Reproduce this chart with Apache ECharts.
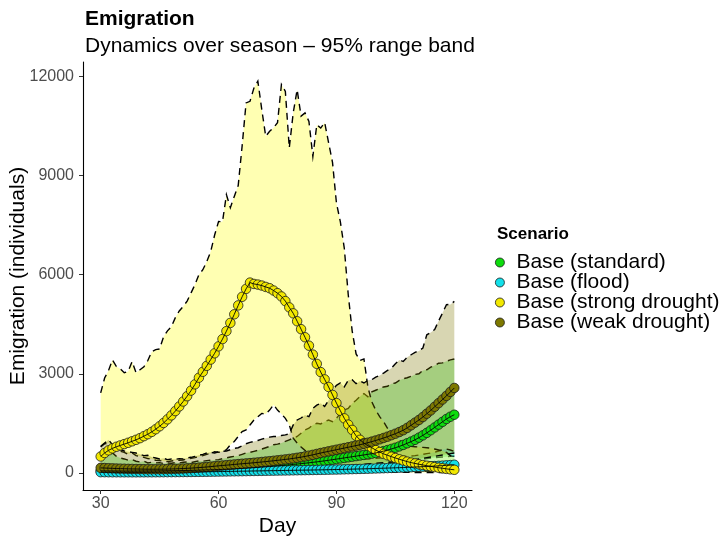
<!DOCTYPE html>
<html>
<head>
<meta charset="utf-8">
<script src="https://cdn.jsdelivr.net/npm/echarts@6/dist/echarts.min.js"></script>
<style>
  html, body { margin: 0; padding: 0; background: #ffffff; }
  #chart { width: 722px; height: 539px; }
</style>
</head>
<body>
<div id="chart"></div>
<script>
// Day of season
const days = [
  30, 31, 32, 33, 34, 35, 36, 37, 38, 39,
  40, 41, 42, 43, 44, 45, 46, 47, 48, 49,
  50, 51, 52, 53, 54, 55, 56, 57, 58, 59,
  60, 61, 62, 63, 64, 65, 66, 67, 68, 69,
  70, 71, 72, 73, 74, 75, 76, 77, 78, 79,
  80, 81, 82, 83, 84, 85, 86, 87, 88, 89,
  90, 91, 92, 93, 94, 95, 96, 97, 98, 99,
  100, 101, 102, 103, 104, 105, 106, 107, 108, 109,
  110, 111, 112, 113, 114, 115, 116, 117, 118, 119,
  120
];

const scenarioNames = ['Base (standard)', 'Base (flood)', 'Base (strong drought)', 'Base (weak drought)'];

// Base (standard): mean and 95% range
const standardMean = [
  60, 58, 57, 56, 55, 55, 54, 54, 54, 55,
  55, 56, 56, 57, 58, 59, 60, 62, 63, 65,
  67, 70, 72, 75, 78, 81, 85, 88, 92, 96,
  100, 105, 110, 116, 122, 128, 134, 141, 148, 156,
  164, 172, 181, 190, 200, 210, 220, 231, 242, 254,
  266, 278, 291, 304, 318, 332, 347, 363, 380, 398,
  416, 434, 452, 470, 488, 506, 524, 542, 561, 580,
  600, 628, 658, 690, 724, 760, 800, 845, 895, 945,
  1000, 1065, 1135, 1210, 1290, 1375, 1460, 1545, 1630, 1700,
  1760
];
const standardLow = [
  10, 10, 8, 8, 8, 7, 7, 7, 6, 6,
  6, 6, 6, 6, 6, 6, 6, 7, 7, 7,
  8, 8, 9, 9, 10, 10, 11, 12, 13, 14,
  15, 16, 18, 20, 22, 24, 26, 28, 30, 33,
  36, 39, 42, 45, 48, 52, 56, 60, 64, 68,
  73, 78, 84, 90, 96, 102, 110, 118, 126, 134,
  142, 150, 160, 170, 180, 190, 200, 212, 224, 236,
  248, 260, 272, 285, 298, 312, 326, 340, 355, 370,
  385, 400, 415, 430, 445, 460, 470, 480, 490, 500,
  500
];
const standardHigh = [
  600, 550, 500, 600, 500, 450, 420, 380, 400, 350,
  330, 350, 300, 320, 300, 310, 280, 300, 290, 310,
  300, 320, 330, 310, 340, 360, 350, 370, 380, 390,
  400, 430, 450, 480, 500, 520, 560, 600, 620, 650,
  680, 720, 760, 800, 850, 870, 900, 950, 1000, 1050,
  1100, 1200, 1300, 1350, 1450, 1500, 1480, 1550, 1600, 1550,
  1650, 1800, 1900, 1950, 2100, 2200, 2312, 2400, 2300, 2450,
  2500, 2550, 2600, 2620, 2700, 2720, 2800, 2850, 2880, 2920,
  2980, 3000, 3100, 3120, 3200, 3250, 3320, 3330, 3380, 3420,
  3445
];

// Base (flood)
const floodMean = [
  20, 19, 18, 17, 17, 16, 16, 16, 16, 16,
  16, 16, 17, 17, 18, 18, 19, 20, 21, 22,
  23, 24, 25, 26, 28, 29, 30, 32, 34, 36,
  38, 40, 42, 44, 46, 48, 50, 52, 54, 56,
  58, 60, 62, 64, 66, 68, 70, 72, 74, 76,
  78, 80, 82, 84, 86, 88, 90, 92, 95, 98,
  100, 103, 106, 109, 112, 115, 118, 121, 124, 128,
  132, 136, 140, 144, 148, 152, 156, 161, 166, 171,
  176, 181, 186, 192, 198, 204, 211, 218, 226, 234,
  245
];
const floodLow = [
  2, 2, 2, 2, 2, 2, 2, 2, 2, 2,
  2, 2, 2, 2, 2, 2, 2, 3, 3, 3,
  3, 3, 4, 4, 4, 4, 5, 5, 5, 6,
  6, 6, 7, 7, 8, 8, 9, 9, 10, 10,
  11, 11, 12, 12, 13, 14, 14, 15, 16, 16,
  17, 18, 19, 20, 20, 21, 22, 23, 24, 25,
  26, 27, 28, 29, 30, 31, 32, 33, 34, 35,
  36, 37, 38, 39, 40, 41, 42, 43, 44, 45,
  46, 47, 48, 49, 50, 51, 52, 53, 54, 55,
  56
];
const floodHigh = [
  120, 110, 100, 110, 90, 100, 90, 95, 85, 90,
  90, 95, 85, 100, 95, 110, 100, 105, 115, 110,
  120, 115, 130, 125, 140, 135, 150, 145, 160, 170,
  165, 180, 175, 190, 200, 195, 210, 220, 215, 230,
  240, 235, 250, 260, 255, 270, 280, 275, 290, 300,
  295, 310, 320, 315, 330, 340, 335, 350, 360, 355,
  370, 380, 375, 390, 400, 395, 410, 420, 430, 425,
  440, 450, 460, 455, 470, 480, 490, 500, 495, 510,
  520, 540, 560, 580, 600, 620, 660, 700, 720, 690,
  650
];

// Base (strong drought)
const strongMean = [
  494, 600, 680, 740, 790, 830, 870, 910, 955, 1000,
  1050, 1110, 1170, 1240, 1320, 1410, 1510, 1620, 1740, 1870,
  2010, 2160, 2320, 2490, 2680, 2880, 3060, 3240, 3430, 3620,
  3830, 4050, 4290, 4540, 4800, 5070, 5330, 5570, 5760, 5720,
  5700, 5670, 5630, 5590, 5520, 5440, 5340, 5200, 5010, 4830,
  4590, 4350, 4105, 3850, 3580, 3300, 3050, 2830, 2600, 2360,
  2112, 1880, 1650, 1460, 1300, 1120, 1000, 900, 820, 760,
  690, 630, 575, 530, 490, 450, 410, 375, 340, 310,
  285, 260, 238, 215, 195, 175, 155, 138, 120, 105,
  92
];
const strongLow = [
  780, 880, 900, 780, 720, 650, 620, 560, 600, 520,
  500, 470, 430, 420, 380, 370, 350, 340, 360, 370,
  380, 390, 420, 440, 460, 490, 520, 560, 590, 640,
  620, 640, 700, 850, 950, 1100, 1250, 1300, 1450, 1600,
  1700, 1800, 1780, 1900, 2060, 1900, 1780, 1650, 1450, 1050,
  900, 780, 680, 600, 520, 450, 380, 320, 270, 230,
  190, 160, 130, 110, 90, 75, 60, 50, 40, 35,
  30, 28, 25, 22, 20, 18, 16, 15, 14, 13,
  12, 11, 10, 10, 9, 9, 8, 8, 7, 7,
  6
];
const strongHigh = [
  2420, 2870, 3100, 3420, 3220, 3150, 3030, 3070, 3370, 3030,
  3120, 3210, 3400, 3670, 3730, 3750, 4120, 4300, 4430, 4700,
  4900, 5040, 5200, 5450, 5700, 6000, 6150, 6400, 6700, 7200,
  7610, 7600, 8420, 8030, 8370, 8700, 9900, 11200, 11250, 11650,
  11860, 11000, 10190, 10340, 10450, 10600, 11760, 11550, 9840, 10900,
  11600, 10800, 10900, 10640, 9580, 10540, 10440, 10610, 10000, 9400,
  8170, 7600, 6800, 5400, 4300, 3600, 3400, 3450, 2600, 2150,
  1900, 1700, 1550, 1350, 1200, 1080, 980, 920, 860, 800,
  790, 780, 770, 760, 750, 720, 690, 660, 620, 520,
  470
];

// Base (weak drought)
const weakMean = [
  150, 145, 140, 135, 130, 127, 124, 120, 118, 116,
  114, 112, 110, 110, 110, 110, 112, 114, 117, 120,
  125, 130, 136, 142, 150, 158, 167, 177, 188, 200,
  212, 222, 232, 243, 254, 265, 275, 285, 294, 305,
  316, 328, 340, 352, 365, 378, 392, 406, 421, 437,
  455, 475, 497, 520, 545, 572, 600, 625, 650, 675,
  700, 725, 750, 775, 800, 825, 850, 880, 912, 945,
  980, 1015, 1055, 1095, 1140, 1185, 1235, 1290, 1360, 1440,
  1520, 1600, 1690, 1790, 1890, 2000, 2110, 2220, 2330, 2450,
  2570
];
const weakLow = [
  20, 15, 15, 10, 10, 10, 8, 8, 8, 8,
  6, 6, 5, 5, 5, 5, 5, 5, 6, 6,
  6, 7, 8, 8, 9, 10, 11, 12, 14, 15,
  17, 19, 21, 23, 25, 28, 31, 34, 37, 40,
  44, 48, 52, 56, 60, 65, 70, 76, 82, 88,
  95, 102, 110, 120, 130, 140, 150, 160, 170, 180,
  190, 200, 210, 220, 230, 240, 250, 260, 270, 280,
  290, 300, 310, 320, 330, 340, 350, 360, 370, 380,
  400, 420, 440, 460, 480, 500, 520, 540, 560, 580,
  600
];
const weakHigh = [
  800, 900, 1000, 850, 800, 700, 660, 640, 620, 600,
  560, 520, 530, 480, 450, 420, 440, 400, 420, 410,
  430, 420, 450, 470, 500, 530, 560, 600, 620, 600,
  640, 650, 660, 700, 740, 760, 820, 880, 920, 950,
  980, 1020, 1050, 1080, 1100, 1100, 1130, 1150, 1180, 1450,
  1600, 1660, 1750, 1700, 1950, 2050, 2110, 2010, 2200, 2500,
  2650, 2720, 2600, 2800, 2820, 2700, 2780, 2720, 2800, 2820,
  2900, 2950, 3020, 3100, 3170, 3300, 3420, 3370, 3500, 3575,
  3650, 3690, 3780, 4180, 4250, 4340, 4600, 4840, 5090, 5100,
  5190
];

// Axis ticks
const xTicks = [30, 60, 90, 120];
const yTicks = [0, 3000, 6000, 9000, 12000];

const pointColors = ['#0ddc0d', '#12e0ea', '#f2e800', '#7d7800'];
const bandColors = [
  'rgba(13,220,13,0.3)',
  'rgba(18,224,234,0.3)',
  'rgba(255,255,0,0.3)',
  'rgba(125,120,0,0.3)'
];

const means = [standardMean, floodMean, strongMean, weakMean];
const lows = [standardLow, floodLow, strongLow, weakLow];
const highs = [standardHigh, floodHigh, strongHigh, weakHigh];

const FONT = 'Liberation Sans, Arial, Helvetica, sans-serif';
const DASH = [7, 5];

const series = [];

// 95% range bands: filled polygon between the bounds plus dashed outlines
scenarioNames.forEach((name, i) => {
  series.push({
    name: name + ' band',
    type: 'custom',
    coordinateSystem: 'cartesian2d',
    silent: true,
    encode: { x: 0, y: 1 },
    data: [[days[0], lows[i][0]]],
    renderItem: function (params, api) {
      const upper = days.map((d, k) => api.coord([d, highs[i][k]]));
      const lower = days.map((d, k) => api.coord([d, lows[i][k]]));
      return {
        type: 'group',
        children: [
          { type: 'polygon', shape: { points: upper.concat(lower.slice().reverse()) },
            style: { fill: bandColors[i], stroke: null } },
          { type: 'polyline', shape: { points: upper },
            style: { stroke: '#000', lineWidth: 1.4, lineDash: DASH, fill: null } },
          { type: 'polyline', shape: { points: lower },
            style: { stroke: '#000', lineWidth: 1.4, lineDash: DASH, fill: null } }
        ]
      };
    },
    z: 2
  });
});

// Mean points
scenarioNames.forEach((name, i) => {
  series.push({
    name: name,
    type: 'line',
    symbol: 'circle',
    symbolSize: 9.5,
    showSymbol: true,
    lineStyle: { width: 0 },
    itemStyle: { color: pointColors[i], borderColor: '#1a1a1a', borderWidth: 0.8 },
    data: days.map((d, k) => [d, means[i][k]]),
    z: 3
  });
});

// Mean lines drawn over the points
scenarioNames.forEach((name, i) => {
  series.push({
    name: name + ' line',
    type: 'line',
    symbol: 'none',
    silent: true,
    lineStyle: { color: '#000', width: 0.9 },
    data: days.map((d, k) => [d, means[i][k]]),
    z: 4
  });
});

const chart = echarts.init(document.getElementById('chart'), null, { renderer: 'canvas' });
chart.setOption({
  animation: false,
  backgroundColor: '#ffffff',
  textStyle: { fontFamily: FONT },
  title: {
    text: 'Emigration',
    subtext: 'Dynamics over season \u2013 95% range band',
    left: 80,
    top: 4,
    itemGap: 6,
    textStyle: { fontFamily: FONT, fontSize: 21, fontWeight: 'bold', color: '#000' },
    subtextStyle: { fontFamily: FONT, fontSize: 21, color: '#000' }
  },
  grid: { left: 83, right: 250, top: 62, bottom: 49, outerBoundsMode: 'none', containLabel: false },
  legend: {
    data: scenarioNames,
    orient: 'vertical',
    left: 490,
    top: 247,
    icon: 'circle',
    itemWidth: 9,
    itemHeight: 9,
    itemGap: -1,
    selectedMode: false,
    itemStyle: { borderColor: '#1a1a1a', borderWidth: 0.8 },
    textStyle: { fontFamily: FONT, fontSize: 21, color: '#000', lineHeight: 18, padding: [0, 0, 0, 7] }
  },
  graphic: [{
    type: 'text',
    left: 497,
    top: 226,
    style: { text: 'Scenario', font: 'bold 17px ' + FONT, fill: '#000' }
  }],
  xAxis: {
    type: 'value',
    min: 25.5,
    max: 124.5,
    name: 'Day',
    nameLocation: 'middle',
    nameGap: 26,
    nameMoveOverlap: false,
    nameTextStyle: { fontFamily: FONT, fontSize: 21, color: '#000' },
    splitLine: { show: false },
    axisLine: { onZero: false, lineStyle: { color: '#000', width: 1.1 } },
    axisTick: { show: true, length: 4, customValues: xTicks, lineStyle: { color: '#333', width: 1 } },
    axisLabel: { customValues: xTicks, fontSize: 16, color: '#4d4d4d', margin: 6, fontFamily: FONT }
  },
  yAxis: {
    type: 'value',
    min: -520,
    max: 12440,
    name: 'Emigration (individuals)',
    nameLocation: 'middle',
    nameGap: 54,
    nameMoveOverlap: false,
    nameTextStyle: { fontFamily: FONT, fontSize: 21, color: '#000' },
    splitLine: { show: false },
    axisLine: { show: true, onZero: false, lineStyle: { color: '#000', width: 1.1 } },
    axisTick: { show: true, length: 4, customValues: yTicks, lineStyle: { color: '#333', width: 1 } },
    axisLabel: { customValues: yTicks, fontSize: 16, color: '#4d4d4d', margin: 9, fontFamily: FONT,
      formatter: function (v) { return String(v); } }
  },
  series: series
});
</script>
</body>
</html>
